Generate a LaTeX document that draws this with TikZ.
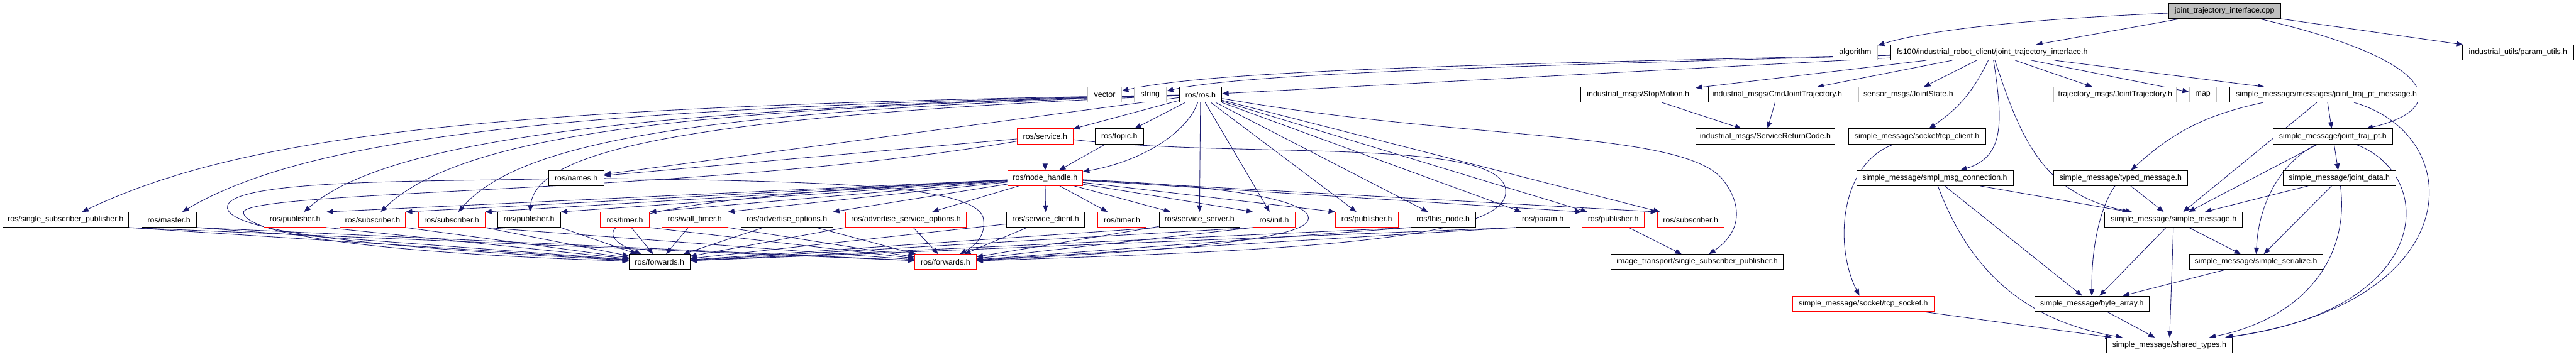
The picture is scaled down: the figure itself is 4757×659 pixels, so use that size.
\documentclass[tikz,border=0pt]{standalone}
\usepackage{fontspec}
\setmainfont{Liberation Sans}
\usetikzlibrary{arrows.meta, backgrounds}
\definecolor{cedge}{HTML}{191970}
\definecolor{clight}{HTML}{BFBFBF}
\definecolor{cred}{HTML}{FF0000}
\tikzset{
  every picture/.style={font=\fontsize{10.8}{13}\selectfont},
  hdr/.style={draw=black, fill=white, line width=0.75pt, minimum height=21pt, inner xsep=3pt, inner ysep=1pt},
  sys/.style={hdr, draw=clight},
  trunc/.style={hdr, draw=cred},
  dep/.style={-{Triangle[length=9pt, width=7pt]}, draw=cedge, line width=0.75pt},
}
\begin{document}
\begin{tikzpicture}[x=0.75pt, y=-0.75pt]
  \useasboundingbox (0,0) rectangle (4757,659);
  % source file and first level
  \node[hdr, fill=clight, minimum width=155pt] (cpp) at (4108,20) {joint\_trajectory\_interface.cpp};
  \node[sys, minimum width=62pt] (algorithm) at (3426,97) {algorithm};
  \node[hdr, minimum width=281pt] (jti) at (3679,97) {fs100/industrial\_robot\_client/joint\_trajectory\_interface.h};
  \node[hdr, minimum width=154pt] (paramutils) at (4650,97) {industrial\_utils/param\_utils.h};
  \node[sys, minimum width=47pt] (vector) at (2040,175) {vector};
  \node[sys, minimum width=45pt] (string) at (2124,175) {string};
  \node[hdr, minimum width=59pt] (ros) at (2217,175) {ros/ros.h};
  \node[hdr, minimum width=159pt] (stopmotion) at (3025,175) {industrial\_msgs/StopMotion.h};
  \node[hdr, minimum width=191pt] (cmdjt) at (3282,175) {industrial\_msgs/CmdJointTrajectory.h};
  \node[sys, minimum width=138pt] (jointstate) at (3524,175) {sensor\_msgs/JointState.h};
  \node[sys, minimum width=170pt] (trajjt) at (3906,175) {trajectory\_msgs/JointTrajectory.h};
  \node[sys, minimum width=38pt] (map) at (4068,175) {map};
  \node[hdr, minimum width=267pt] (jtpmsg) at (4296,175) {simple\_message/messages/joint\_traj\_pt\_message.h};
  \node[trunc, minimum width=77pt] (service) at (1930,252) {ros/service.h};
  \node[hdr, minimum width=67pt] (topic) at (2067,252) {ros/topic.h};
  \node[hdr, minimum width=193pt] (srvret) at (3260,252) {industrial\_msgs/ServiceReturnCode.h};
  \node[hdr, minimum width=190pt] (tcpclient) at (3540,252) {simple\_message/socket/tcp\_client.h};
  \node[hdr, minimum width=166pt] (jtp) at (4308,252) {simple\_message/joint\_traj\_pt.h};
  \node[hdr, minimum width=77pt] (names) at (1064,329) {ros/names.h};
  \node[trunc, minimum width=104pt] (nodehandle) at (1930,329) {ros/node\_handle.h};
  \node[hdr, minimum width=217pt] (smplconn) at (3573,329) {simple\_message/smpl\_msg\_connection.h};
  \node[hdr, minimum width=186pt] (typedmsg) at (3916,329) {simple\_message/typed\_message.h};
  \node[hdr, minimum width=156pt] (jointdata) at (4320,329) {simple\_message/joint\_data.h};
  % ros headers row
  \node[hdr, minimum width=174pt] (singlesub) at (121,406) {ros/single\_subscriber\_publisher.h};
  \node[hdr, minimum width=76pt] (master) at (312,406) {ros/master.h};
  \node[trunc, minimum width=86pt] (pubA) at (545,406) {ros/publisher.h};
  \node[trunc, minimum width=91pt] (subA) at (688,406) {ros/subscriber.h};
  \node[trunc, minimum width=92pt] (subB) at (834,406) {ros/subscriber.h};
  \node[hdr, minimum width=87pt] (pubB) at (977,406) {ros/publisher.h};
  \node[trunc, minimum width=68pt] (timerA) at (1154,406) {ros/timer.h};
  \node[trunc, minimum width=91pt] (walltimer) at (1283,406) {ros/wall\_timer.h};
  \node[hdr, minimum width=127pt] (advopts) at (1453,406) {ros/advertise\_options.h};
  \node[trunc, minimum width=167pt] (advsrvopts) at (1673,406) {ros/advertise\_service\_options.h};
  \node[hdr, minimum width=108pt] (srvclient) at (1931,406) {ros/service\_client.h};
  \node[trunc, minimum width=67pt] (timerB) at (2072,406) {ros/timer.h};
  \node[hdr, minimum width=112pt] (srvserver) at (2215,406) {ros/service\_server.h};
  \node[trunc, minimum width=58pt] (init) at (2353,406) {ros/init.h};
  \node[trunc, minimum width=87pt] (pubC) at (2524,406) {ros/publisher.h};
  \node[hdr, minimum width=90pt] (thisnode) at (2665,406) {ros/this\_node.h};
  \node[hdr, minimum width=75pt] (param) at (2849,406) {ros/param.h};
  \node[trunc, minimum width=86pt] (pubD) at (2979,406) {ros/publisher.h};
  \node[trunc, minimum width=92pt] (subC) at (3122,406) {ros/subscriber.h};
  \node[hdr, minimum width=191pt] (simplemsg) at (4014,406) {simple\_message/simple\_message.h};
  \node[hdr, minimum width=84pt] (fwdB) at (1218,484) {ros/forwards.h};
  \node[trunc, minimum width=85pt] (fwdR) at (1746,484) {ros/forwards.h};
  \node[hdr, minimum width=239pt] (imgtrans) at (3134,484) {image\_transport/single\_subscriber\_publisher.h};
  \node[hdr, minimum width=185pt] (serialize) at (4166,484) {simple\_message/simple\_serialize.h};
  \node[trunc, minimum width=196pt] (tcpsocket) at (3441,561) {simple\_message/socket/tcp\_socket.h};
  \node[hdr, minimum width=158pt] (bytearray) at (3863,561) {simple\_message/byte\_array.h};
  \node[hdr, minimum width=174pt] (sharedtypes) at (4006,638) {simple\_message/shared\_types.h};
  \begin{scope}[on background layer]
  % includes of the source file
  \draw[dep] (cpp) .. controls (3750,35) and (3560,55) .. (algorithm);
  \draw[dep] (cpp) -- (jti);
  \draw[dep] (cpp) -- (paramutils);
  \draw[dep] (cpp) .. controls (4500,110) and (4530,200) .. (jtp);
  % includes of the interface header
  \draw[dep] (jti) .. controls (2800,118) and (2250,128) .. (vector);
  \draw[dep] (jti) .. controls (2800,122) and (2300,135) .. (string);
  \draw[dep] (jti) -- (ros);
  \draw[dep] (jti) -- (stopmotion);
  \draw[dep] (jti) -- (cmdjt);
  \draw[dep] (jti) -- (jointstate);
  \draw[dep] (jti) -- (trajjt);
  \draw[dep] (jti) -- (map);
  \draw[dep] (jti) -- (jtpmsg);
  \draw[dep] (jti) to[bend left=15] (tcpclient);
  \draw[dep] (jti) .. controls (3700,230) and (3700,290) .. (smplconn);
  \draw[dep] (jti) .. controls (3730,250) and (3770,360) .. (simplemsg);
  \draw[dep] (stopmotion) -- (srvret);
  \draw[dep] (cmdjt) -- (srvret);
  % simple_message
  \draw[dep] (tcpclient) .. controls (3400,300) and (3385,450) .. (tcpsocket);
  \draw[dep] (smplconn) -- (simplemsg);
  \draw[dep] (smplconn) -- (bytearray);
  \draw[dep] (smplconn) .. controls (3630,480) and (3720,590) .. (sharedtypes);
  \draw[dep] (typedmsg) -- (simplemsg);
  \draw[dep] (typedmsg) .. controls (3880,380) and (3862,450) .. (bytearray);
  \draw[dep] (jtpmsg) to[bend right=15] (typedmsg);
  \draw[dep] (jtpmsg) -- (simplemsg);
  \draw[dep] (jtpmsg) -- (jtp);
  \draw[dep] (jtpmsg) .. controls (4560,250) and (4560,560) .. (sharedtypes);
  \draw[dep] (jtp) -- (jointdata);
  \draw[dep] (jtp) -- (simplemsg);
  \draw[dep] (jtp) .. controls (4210,300) and (4170,380) .. (serialize);
  \draw[dep] (jtp) .. controls (4500,320) and (4500,570) .. (sharedtypes);
  \draw[dep] (jointdata) -- (simplemsg);
  \draw[dep] (jointdata) -- (serialize);
  \draw[dep] (jointdata) .. controls (4340,480) and (4250,590) .. (sharedtypes);
  \draw[dep] (simplemsg) -- (bytearray);
  \draw[dep] (simplemsg) -- (serialize);
  \draw[dep] (simplemsg) -- (sharedtypes);
  \draw[dep] (serialize) -- (bytearray);
  \draw[dep] (bytearray) -- (sharedtypes);
  \draw[dep] (tcpsocket) -- (sharedtypes);
  % ros/ros.h
  \draw[dep] (ros) -- (service);
  \draw[dep] (ros) -- (topic);
  \draw[dep] (ros) .. controls (2190,250) and (2100,300) .. (nodehandle);
  \draw[dep] (ros) -- (names);
  \draw[dep] (ros) .. controls (900,195) and (450,250) .. (singlesub);
  \draw[dep] (ros) .. controls (1000,198) and (560,260) .. (master);
  \draw[dep] (ros) .. controls (1100,200) and (700,270) .. (pubA);
  \draw[dep] (ros) .. controls (1250,200) and (850,250) .. (subA);
  \draw[dep] (ros) .. controls (1300,203) and (960,260) .. (subB);
  \draw[dep] (ros) .. controls (1250,215) and (990,280) .. (pubB);
  \draw[dep] (ros) -- (srvserver);
  \draw[dep] (ros) -- (init);
  \draw[dep] (ros) -- (pubC);
  \draw[dep] (ros) -- (thisnode);
  \draw[dep] (ros) -- (param);
  \draw[dep] (ros) -- (pubD);
  \draw[dep] (ros) -- (subC);
  \draw[dep] (ros) .. controls (2700,260) and (3100,240) .. (3180,330) .. controls (3220,380) and (3215,430) .. (imgtrans);
  \draw[dep] (service) -- (nodehandle);
  \draw[dep] (service) -- (names);
  \draw[dep] (service) .. controls (1300,360) and (420,350) .. (450,395) .. controls (470,450) and (900,475) .. (fwdB);
  \draw[dep] (service) .. controls (2300,295) and (2800,250) .. (2780,360) .. controls (2765,450) and (2300,465) .. (fwdR);
  \draw[dep] (topic) -- (nodehandle);
  \draw[dep] (names) .. controls (800,336) and (410,330) .. (420,385) .. controls (430,440) and (850,465) .. (fwdB);
  \draw[dep] (names) .. controls (1500,335) and (1790,340) .. (1815,400) .. controls (1825,440) and (1790,460) .. (fwdR);
  % ros/node_handle.h
  \draw[dep] (nodehandle) -- (pubA.north east);
  \draw[dep] (nodehandle) -- (subA.north east);
  \draw[dep] (nodehandle) -- (subB.north east);
  \draw[dep] (nodehandle) -- (pubB.north east);
  \draw[dep] (nodehandle) -- (timerA.north east);
  \draw[dep] (nodehandle) -- (walltimer.north east);
  \draw[dep] (nodehandle) -- (advopts.north east);
  \draw[dep] (nodehandle) -- (advsrvopts);
  \draw[dep] (nodehandle) -- (srvclient);
  \draw[dep] (nodehandle) -- (timerB);
  \draw[dep] (nodehandle) -- (srvserver);
  \draw[dep] (nodehandle) -- (init.north west);
  \draw[dep] (nodehandle) -- (pubC.north west);
  \draw[dep] (nodehandle) -- (pubD.north west);
  \draw[dep] (nodehandle) -- (subC.north west);
  \draw[dep] (nodehandle) .. controls (1300,360) and (1020,400) .. (fwdB);
  \draw[dep] (nodehandle) .. controls (2300,345) and (2430,375) .. (2415,408) .. controls (2400,440) and (2200,462) .. (fwdR);
  % down to the forwards headers
  \draw[dep] (singlesub.south east) -- (fwdB);
  \draw[dep] (singlesub.south east) -- (fwdR);
  \draw[dep] (master.south east) -- (fwdB);
  \draw[dep] (master.south east) -- (fwdR);
  \draw[dep] (pubA.south east) -- (fwdB);
  \draw[dep] (subA.south east) -- (fwdB);
  \draw[dep] (subB.south east) -- (fwdB);
  \draw[dep] (subB.south east) -- (fwdR);
  \draw[dep] (pubB.south east) -- (fwdB);
  \draw[dep] (timerA) -- (fwdB);
  \draw[dep] (timerA.south east) -- (fwdR);
  \draw[dep] (walltimer) -- (fwdB);
  \draw[dep] (walltimer.south east) -- (fwdR);
  \draw[dep] (advopts) -- (fwdB);
  \draw[dep] (advopts) -- (fwdR);
  \draw[dep] (advsrvopts.south west) -- (fwdB);
  \draw[dep] (advsrvopts) -- (fwdR);
  \draw[dep] (srvclient) -- (fwdB);
  \draw[dep] (srvclient) -- (fwdR);
  \draw[dep] (srvserver.south west) -- (fwdB);
  \draw[dep] (srvserver) -- (fwdR);
  \draw[dep] (init.south west) -- (fwdB);
  \draw[dep] (init.south west) -- (fwdR);
  \draw[dep] (thisnode.south west) -- (fwdB);
  \draw[dep] (thisnode.south west) -- (fwdR);
  \draw[dep] (param.south west) -- (fwdB);
  \draw[dep] (param.south west) -- (fwdR);
  \draw[dep] (pubD) -- (imgtrans);
  \end{scope}
\end{tikzpicture}
\end{document}
